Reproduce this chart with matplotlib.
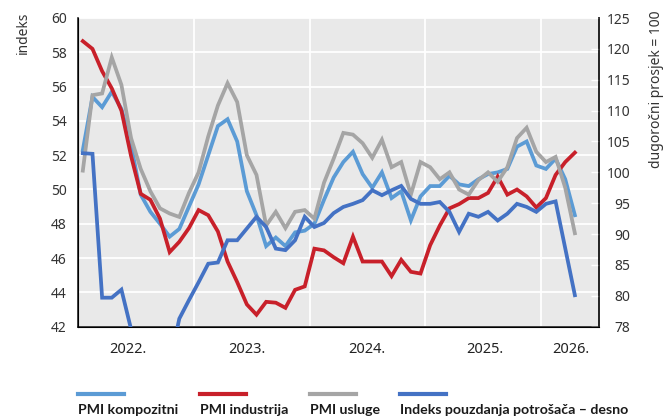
import numpy as np
import matplotlib
matplotlib.use("Agg")
import matplotlib.pyplot as plt
from matplotlib.lines import Line2D

plt.rcParams['font.family'] = ['Noto Sans', 'DejaVu Sans']

# mjesečni podaci, siječanj 2022. - travanj 2026.
pmi_kompozitni = [52.3, 55.4, 54.8, 55.7, 54.7, 52.6, 49.7, 48.7, 48.0, 47.25,
                  47.7, 49.0, 50.3, 52.0, 53.7, 54.1, 52.8, 49.9, 48.5, 46.7,
                  47.2, 46.7, 47.5, 47.6, 48.0, 49.4, 50.7, 51.6, 52.2, 50.9,
                  50.1, 51.0, 49.5, 49.9, 48.2, 49.6, 50.2, 50.2, 50.8, 50.3,
                  50.2, 50.6, 50.9, 51.0, 51.2, 52.5, 52.8, 51.4, 51.2, 51.8,
                  50.6, 48.5]
pmi_industrija = [58.65, 58.2, 56.9, 55.9, 54.6, 51.95, 49.75, 49.4, 48.3, 46.35,
                  46.95, 47.75, 48.8, 48.5, 47.55, 45.8, 44.6, 43.3, 42.7, 43.45,
                  43.4, 43.1, 44.15, 44.35, 46.55, 46.45, 46.05, 45.7, 47.25, 45.8,
                  45.8, 45.8, 44.95, 45.9, 45.2, 45.1, 46.75, 47.9, 48.9, 49.15,
                  49.5, 49.5, 49.8, 50.75, 49.7, 50.0, 49.6, 48.95, 49.5, 50.85,
                  51.6, 52.15]
pmi_usluge = [51.1, 55.5, 55.6, 57.7, 56.1, 53.0, 51.2, 49.9, 48.9, 48.6,
              48.4, 49.8, 51.0, 53.1, 54.9, 56.2, 55.1, 52.0, 50.85, 47.9,
              48.7, 47.75, 48.7, 48.8, 48.3, 50.4, 51.8, 53.3, 53.2, 52.7,
              51.85, 52.9, 51.3, 51.6, 49.7, 51.6, 51.3, 50.6, 51.0, 50.0,
              49.7, 50.55, 51.0, 50.45, 51.3, 53.0, 53.6, 52.2, 51.6, 51.9,
              50.1, 47.45]
pouzdanje = [103.1, 103.0, 79.7, 79.7, 81.0, 74.6, 72.0, 70.5, 69.5, 69.0,
             76.3, 79.3, 82.2, 85.2, 85.4, 89.0, 89.0, 90.9, 92.8, 91.15,
             87.65, 87.4, 89.0, 92.8, 91.15, 91.8, 93.4, 94.4, 94.9, 95.5,
             97.1, 96.3, 97.1, 97.8, 95.7, 94.9, 94.9, 95.2, 93.6, 90.35,
             93.3, 92.8, 93.6, 92.2, 93.3, 94.9, 94.4, 93.6, 94.9, 95.3,
             87.7, 80.1]

godine = ['2022.', '2023.', '2024.', '2025.', '2026.']
godine_pos = [4.7, 17.0, 29.4, 41.7, 50.6]

lijevi_ticks = list(range(42, 61, 2))
desni_ticks = list(range(75, 126, 5))
desni_labels = ['78'] + [str(v) for v in desni_ticks[1:]]

c_komp = '#5b9bd5'
c_ind = '#c8202a'
c_usl = '#a5a5a5'
c_pouz = '#4472c4'
txt = '#333333'

x = np.arange(len(pmi_kompozitni))

fig = plt.figure(figsize=(6.7, 4.18), dpi=100)
ax = fig.add_axes([78 / 670, 1 - 326.7 / 418, (599 - 78) / 670, (326.7 - 18) / 418])
ax.set_facecolor('#e9e9e9')

lw = 2.7
ax.plot(x, pmi_kompozitni, color=c_komp, lw=lw, solid_joinstyle='miter', zorder=3)
ax.plot(x, pmi_industrija, color=c_ind, lw=lw, solid_joinstyle='miter', zorder=4)
ax.plot(x, pmi_usluge, color=c_usl, lw=lw, solid_joinstyle='miter', zorder=5)

ax.set_xlim(-0.5, 53.5)
ax.set_ylim(42, 60)
ax.set_yticks(lijevi_ticks)
ax.set_xticks(godine_pos)
ax.set_xticklabels(godine)
ax.set_xticks(np.arange(11.5, 53, 12), minor=True)

ax.grid(axis='y', which='major', color='white', lw=1.3)
ax.grid(axis='x', which='minor', color='white', lw=1.3)
ax.set_axisbelow(True)

ax.tick_params(axis='y', length=0, pad=8, labelsize=10, labelcolor=txt)
ax.tick_params(axis='x', which='both', length=0, pad=11, labelsize=10.5, labelcolor='#222222')

ax.spines['top'].set_visible(False)
for s in ['left', 'bottom', 'right']:
    ax.spines[s].set_color('#222222')
    ax.spines[s].set_linewidth(1.2)

ax2 = ax.twinx()
ax2.plot(x, pouzdanje, color=c_pouz, lw=lw, solid_joinstyle='miter', zorder=6)
ax2.set_ylim(75, 125)
ax2.set_yticks(desni_ticks)
ax2.set_yticklabels(desni_labels)
ax2.tick_params(axis='y', direction='in', length=6, width=1, color='white',
                pad=22.5, labelsize=10, labelcolor=txt)
for lab in ax2.get_yticklabels():
    lab.set_horizontalalignment('right')
ax2.spines['top'].set_visible(False)
ax2.spines['right'].set_color('#222222')
ax2.spines['right'].set_linewidth(1.2)

fig.text(23 / 670, 1 - 12 / 418, 'indeks', rotation=90, va='top', ha='center',
         fontsize=10, color=txt)
fig.text(656 / 670, 1 - 10 / 418, 'dugoročni prosjek = 100', rotation=90,
         va='top', ha='center', fontsize=10, color=txt)

# legenda
stavke = [('PMI kompozitni', c_komp, 78), ('PMI industrija', c_ind, 200),
          ('PMI usluge', c_usl, 310), ('Indeks pouzdanja potrošača – desno', c_pouz, 400)]
for naziv, boja, px in stavke:
    fig.add_artist(Line2D([px / 670, (px + 46) / 670], [1 - 394 / 418, 1 - 394 / 418],
                          transform=fig.transFigure, color=boja, lw=3))
    fig.text(px / 670, 1 - 410 / 418, naziv, ha='left', va='center',
             fontsize=10.2, fontweight='bold', color='#1a1a1a',
             family=['Lato', 'DejaVu Sans'])

fig.savefig('out.png', dpi=100)
